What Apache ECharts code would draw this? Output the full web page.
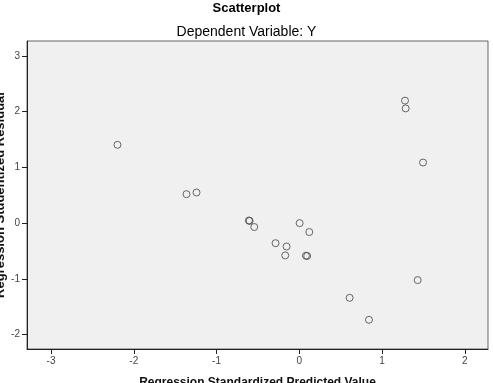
<!DOCTYPE html>
<html><head><meta charset="utf-8">
<script src="https://cdn.jsdelivr.net/npm/echarts@6/dist/echarts.min.js"></script>
<style>html,body{margin:0;padding:0;background:#fff}#c{width:493px;height:383px}</style>
</head><body><div id="c"></div>
<script>
const predicted = [-2.197, -1.363, -1.242, -0.609, -0.600, -0.544, 0.004, 0.121, -0.287, -0.154, -0.170, 0.080, 0.095, 1.277, 1.285, 1.495, 1.430, 0.608, 0.842];
const residual  = [1.406, 0.520, 0.550, 0.047, 0.040, -0.070, 0.000, -0.160, -0.360, -0.420, -0.580, -0.585, -0.590, 2.200, 2.060, 1.088, -1.023, -1.341, -1.736];
const xTicks = [-3, -2, -1, 0, 1, 2];
const yTicks = [-2, -1, 0, 1, 2, 3];
const points = predicted.map((x, i) => [x, residual[i]]);

const chart = echarts.init(document.getElementById('c'), null, {renderer: 'canvas'});
const font = 'Liberation Sans, Arial, sans-serif';
chart.setOption({
  animation: false,
  backgroundColor: '#ffffff',
  title: [
    {text: 'Scatterplot', left: 'center', top: -3,
     textStyle: {fontFamily: font, fontSize: 13, fontWeight: 'bold', color: '#000'}},
    {text: 'Dependent Variable: Y', left: 'center', top: 20,
     textStyle: {fontFamily: font, fontSize: 14, fontWeight: 'normal', color: '#000'}}
  ],
  grid: {left: 27, right: 5, top: 41, bottom: 34, show: true, outerBoundsMode: 'none',
         backgroundColor: '#f0f0f0', borderColor: '#666', borderWidth: 1},
  xAxis: {
    type: 'value', min: -3.29, max: 2.28,
    name: 'Regression Standardized Predicted Value', nameLocation: 'middle', nameGap: 28,
    nameMoveOverlap: false,
    nameTextStyle: {fontFamily: font, fontSize: 12, fontWeight: 'bold', color: '#111'},
    axisLine: {show: true, onZero: false, lineStyle: {color: '#222', width: 1}},
    axisTick: {show: true, length: 5, lineStyle: {color: '#222'}, customValues: xTicks},
    axisLabel: {customValues: xTicks, margin: 7, fontFamily: font, fontSize: 10, color: '#444'},
    splitLine: {show: false}
  },
  yAxis: {
    type: 'value', min: -2.26, max: 3.27,
    name: 'Regression Studentized Residual', nameLocation: 'middle', nameGap: 20, nameRotate: 90,
    nameMoveOverlap: false,
    nameTextStyle: {fontFamily: font, fontSize: 13, fontWeight: 'bold', color: '#111'},
    axisLine: {show: true, onZero: false, lineStyle: {color: '#222', width: 1}},
    axisTick: {show: true, length: 5, lineStyle: {color: '#222'}, customValues: yTicks},
    axisLabel: {customValues: yTicks, margin: 7, fontFamily: font, fontSize: 10, color: '#444'},
    splitLine: {show: false}
  },
  series: [{
    type: 'scatter', data: points, symbol: 'circle', symbolSize: 7,
    itemStyle: {color: 'rgba(0,0,0,0)', borderColor: '#444', borderWidth: 1}
  }]
});
</script></body></html>
